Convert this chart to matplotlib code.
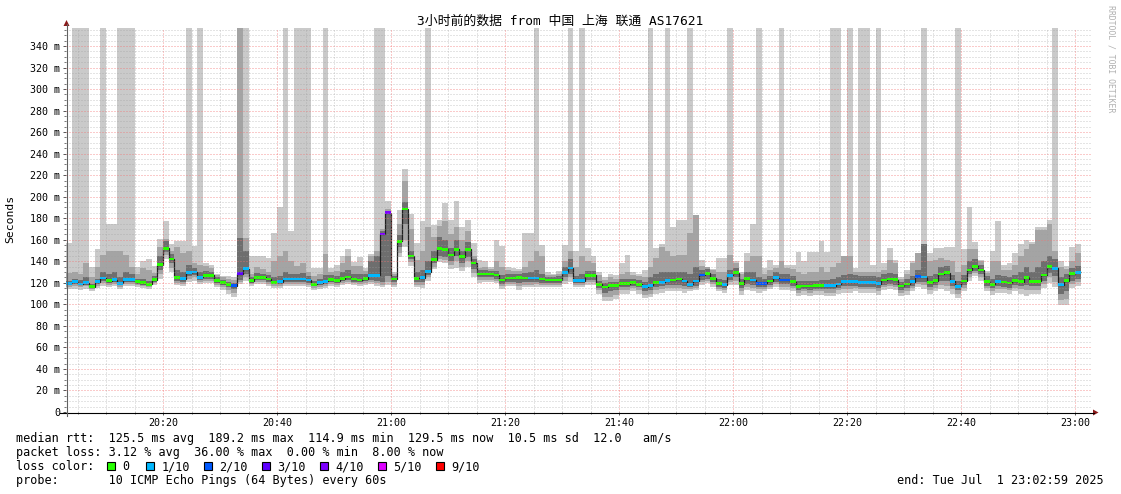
import numpy as np
import matplotlib
matplotlib.use("Agg")
import matplotlib.pyplot as plt
from matplotlib.patches import Rectangle, Polygon

# ---------------- data (one value per minute, starting 20:03) ----------------
med = [
    119.5, 121, 119, 120, 116.5, 121, 124.5, 122, 123, 119.5,
    123, 123, 121, 120, 118.5, 123, 137, 152, 142, 125,
    124, 129.5, 130, 125, 127, 127, 122, 120, 118.5, 117.5,
    128.5, 133, 122, 125, 125, 123.5, 120.5, 121, 123.5, 123.5,
    123.5, 123.5, 122.5, 118.5, 120, 121.5, 123, 122, 124, 125.5,
    123.5, 122.6, 124, 127, 127, 165.4, 185, 123.5, 158.5, 188.6,
    145, 124.3, 124.7, 130.3, 141.5, 152, 151, 145.8, 151, 144.4,
    151, 138.4, 128.2, 128.2, 128.2, 127.3, 122.6, 124.5, 124.5, 124.8,
    124.6, 124.6, 124.6, 123.5, 122.5, 122.5, 122.5, 129.8, 133.8, 122.1,
    122.1, 127, 127, 118.5, 116, 117.6, 117.6, 119.2, 119.2, 120,
    118.5, 116.5, 117.7, 120, 120.3, 122.3, 122.5, 123.5, 121.8, 118.7,
    121.8, 127.2, 128.8, 124.2, 119.1, 118.4, 126.8, 129.4, 119.1, 123.8,
    122.5, 119.4, 119.4, 121.7, 124.8, 122.6, 122.6, 121, 116.8, 117,
    116.9, 117.3, 117.3, 117.3, 117.5, 118.9, 121, 121.2, 121.2, 120.5,
    120.5, 120.5, 119.3, 122.5, 123.6, 122.9, 117, 118.8, 121.2, 125.6,
    125.3, 120, 122, 128.2, 129.4, 121.4, 116.7, 121.7, 132, 135.4,
    132, 121.2, 118.6, 121, 120.8, 119.7, 121.9, 121.2, 125.2, 121.3,
    121.3, 127.2, 135, 133.6, 118.2, 122.1, 128.5, 129.7,
]
loss = [
    1, 1, 1, 1, 0, 1, 1, 0, 1, 1,
    1, 1, 0, 0, 0, 0, 0, 0, 0, 0,
    1, 1, 1, 1, 0, 0, 0, 0, 0, 2,
    3, 1, 0, 0, 0, 0, 0, 1, 1, 1,
    1, 1, 1, 0, 1, 1, 0, 0, 0, 0,
    0, 0, 0, 1, 1, 4, 4, 0, 0, 0,
    0, 0, 1, 1, 0, 0, 0, 0, 0, 0,
    0, 0, 0, 0, 0, 0, 0, 0, 0, 0,
    0, 1, 1, 0, 0, 0, 0, 1, 1, 1,
    1, 0, 0, 0, 0, 0, 0, 0, 0, 0,
    0, 1, 1, 0, 1, 1, 0, 0, 1, 1,
    1, 2, 0, 0, 0, 1, 1, 0, 0, 0,
    1, 2, 2, 0, 1, 2, 2, 0, 0, 0,
    0, 0, 0, 1, 1, 1, 1, 1, 1, 1,
    1, 1, 1, 0, 0, 0, 0, 0, 1, 2,
    1, 0, 0, 0, 0, 1, 1, 0, 0, 0,
    0, 0, 0, 1, 0, 0, 0, 0, 0, 0,
    0, 0, 0, 1, 1, 0, 0, 1,
]
# smoke band edges (ms); 999 = beyond the top of the graph
lo1 = [
    114, 114, 113, 114, 112, 115, 117, 116, 117, 114,
    117, 117, 116, 115, 114, 118, 124, 142, 130, 118,
    117, 121, 122, 119, 120, 120, 116, 113, 110, 107,
    119, 122, 117, 119, 119, 117, 115, 115, 117, 117,
    117, 117, 116, 113, 114, 115, 117, 116, 118, 119,
    118, 117, 118, 119, 117, 116, 118, 116, 144, 153,
    136, 116, 115, 122, 133, 139, 138, 133, 134, 131,
    135, 125, 120, 121, 121, 120, 114, 117, 117, 113,
    116, 116, 116, 116, 116, 116, 116, 119, 121, 116,
    116, 118, 118, 110, 103, 103, 105, 110, 110, 112,
    110, 106, 107, 110, 111, 112, 112, 112, 111, 112,
    113, 118, 120, 116, 112, 111, 118, 118, 109, 113,
    112, 111, 112, 114, 116, 113, 113, 112, 108, 109,
    108, 109, 109, 108, 108, 110, 111, 111, 112, 111,
    111, 111, 109, 113, 114, 113, 108, 109, 112, 116,
    114, 110, 112, 114, 112, 110, 106, 112, 122, 126,
    122, 112, 109, 111, 111, 110, 112, 110, 108, 110,
    110, 115, 120, 116, 99, 99, 115, 117,
]
lo2 = [
    116, 117, 116, 117, 114, 117, 120, 118, 119, 116,
    119, 119, 118, 117, 116, 120, 128, 146, 134, 120,
    119, 124, 125, 121, 122, 122, 118, 116, 113, 111,
    121, 125, 119, 121, 121, 119, 117, 117, 119, 119,
    119, 119, 118, 115, 116, 117, 119, 118, 120, 121,
    120, 119, 120, 121, 120, 118, 121, 118, 148, 160,
    139, 118, 118, 125, 135, 142, 141, 137, 140, 135,
    140, 129, 123, 123, 123, 122, 117, 119, 119, 117,
    118, 118, 119, 118, 118, 118, 118, 122, 125, 118,
    118, 121, 121, 113, 107, 107, 109, 113, 113, 115,
    113, 109, 110, 113, 114, 115, 115, 115, 114, 114,
    115, 121, 122, 119, 114, 113, 121, 122, 112, 116,
    115, 114, 114, 116, 119, 116, 116, 115, 111, 112,
    111, 112, 112, 111, 111, 113, 114, 114, 115, 114,
    114, 114, 112, 116, 117, 116, 111, 112, 115, 119,
    118, 113, 115, 118, 117, 114, 110, 115, 125, 129,
    125, 115, 112, 114, 114, 113, 115, 114, 113, 113,
    113, 119, 125, 121, 104, 105, 119, 121,
]
lo3 = [
    118, 119, 118, 118, 115, 119, 122, 120, 121, 118,
    121, 121, 119, 118, 117, 121, 132, 149, 138, 122,
    121, 126, 127, 123, 124, 124, 120, 118, 116, 114,
    123, 128, 120, 123, 123, 121, 119, 119, 121, 121,
    121, 121, 120, 117, 118, 119, 121, 120, 122, 123,
    121, 121, 122, 123, 122, 121, 126, 121, 153, 175,
    142, 121, 121, 127, 138, 145, 144, 140, 145, 138,
    144, 133, 125, 125, 125, 124, 119, 121, 121, 120,
    121, 121, 121, 120, 120, 120, 120, 125, 128, 120,
    120, 123, 123, 115, 111, 112, 113, 116, 116, 117,
    116, 112, 113, 116, 117, 118, 118, 118, 117, 116,
    117, 123, 124, 121, 116, 115, 123, 125, 115, 119,
    118, 116, 116, 118, 121, 119, 119, 117, 113, 114,
    113, 114, 114, 114, 114, 115, 117, 117, 117, 116,
    116, 116, 115, 118, 119, 118, 113, 115, 117, 121,
    121, 116, 118, 122, 122, 117, 113, 118, 128, 131,
    128, 117, 115, 117, 116, 115, 118, 117, 118, 117,
    117, 122, 129, 126, 110, 112, 122, 124,
]
hi3 = [
    122, 124, 123, 125, 119, 124, 130, 128, 130, 125,
    130, 128, 124, 124, 122, 126, 145, 159, 147, 132,
    130, 137, 134, 130, 131, 130, 125, 123, 121, 120,
    162, 150, 125, 129, 128, 127, 125, 126, 130, 128,
    128, 129, 126, 122, 124, 127, 127, 126, 130, 132,
    128, 128, 128, 140, 145, 168, 187, 126, 164, 195,
    150, 130, 132, 140, 150, 163, 160, 152, 160, 150,
    158, 142, 132, 132, 131, 131, 127, 128, 128, 128,
    129, 130, 132, 128, 125, 125, 126, 135, 142, 126,
    128, 131, 131, 122, 120, 121, 121, 124, 124, 124,
    123, 121, 125, 128, 130, 130, 130, 130, 130, 128,
    135, 132, 133, 128, 124, 123, 132, 134, 124, 130,
    130, 125, 124, 126, 130, 128, 128, 126, 122, 122,
    122, 122, 123, 123, 124, 125, 127, 128, 127, 126,
    126, 126, 125, 128, 129, 128, 121, 124, 126, 132,
    156, 126, 128, 135, 136, 127, 122, 127, 140, 142,
    137, 126, 124, 127, 126, 125, 127, 130, 135, 130,
    135, 140, 145, 142, 125, 128, 134, 136,
]
hi2 = [
    129, 130, 128, 138, 125, 135, 146, 150, 150, 150,
    146, 135, 128, 134, 132, 129, 153, 161, 150, 153,
    148, 150, 138, 137, 136, 134, 127, 125, 124, 123,
    999, 162, 128, 135, 133, 130, 140, 145, 150, 140,
    136, 138, 130, 126, 128, 147, 130, 131, 138, 145,
    136, 136, 131, 145, 150, 170, 189, 128, 175, 215,
    170, 141, 150, 172, 163, 173, 177, 165, 172, 160,
    168, 145, 134, 135, 133, 140, 135, 132, 131, 131,
    135, 140, 150, 145, 127, 127, 128, 140, 150, 135,
    145, 140, 138, 127, 123, 125, 124, 128, 130, 127,
    126, 125, 135, 143, 153, 150, 145, 146, 146, 166,
    183, 136, 135, 132, 130, 130, 146, 138, 128, 140,
    145, 145, 128, 132, 134, 140, 134, 133, 130, 128,
    130, 130, 135, 130, 135, 138, 145, 145, 130, 130,
    130, 130, 130, 132, 141, 138, 124, 128, 138, 148,
    156, 140, 141, 143, 141, 140, 130, 137, 151, 151,
    140, 129, 140, 140, 132, 132, 137, 145, 151, 156,
    169, 169, 175, 150, 135, 133, 140, 148,
]
hi1 = [
    157, 999, 999, 999, 135, 151, 999, 175, 175, 999,
    999, 999, 135, 140, 142, 136, 161, 177, 156, 159,
    159, 999, 154, 999, 138, 137, 128, 126, 126, 125,
    999, 999, 145, 145, 145, 143, 166, 190, 999, 168,
    999, 999, 999, 134, 134, 999, 134, 137, 145, 151,
    139, 144, 134, 147, 999, 999, 196, 130, 188, 226,
    184, 157, 177, 999, 174, 178, 194, 178, 196, 172,
    178, 157, 141, 140, 135, 160, 154, 135, 134, 133,
    166, 166, 999, 155, 130, 128, 131, 155, 999, 150,
    999, 152, 145, 130, 125, 128, 127, 138, 146, 130,
    128, 132, 999, 152, 156, 999, 172, 178, 178, 999,
    183, 141, 135, 133, 143, 143, 999, 140, 130, 148,
    175, 999, 134, 141, 137, 999, 137, 137, 149, 140,
    149, 149, 159, 149, 999, 999, 145, 999, 134, 999,
    999, 137, 999, 138, 152, 141, 125, 132, 140, 148,
    999, 148, 152, 152, 153, 153, 999, 151, 190, 158,
    141, 131, 150, 177, 137, 138, 148, 156, 160, 158,
    172, 172, 178, 999, 140, 136, 153, 156,
]

time_labels = ["20:20", "20:40", "21:00", "21:20", "21:40",
               "22:00", "22:20", "22:40", "23:00"]
time_pos = [17, 37, 57, 77, 97, 117, 137, 157, 177]   # minutes after 20:03
y_ticks = list(range(0, 341, 20))
y_labels = ["0"] + [f"{v} m" for v in y_ticks[1:]]

loss_levels = [0, 1, 2, 3, 4, 5, 9]
loss_names = ["0", "1/10", "2/10", "3/10", "4/10", "5/10", "9/10"]
loss_colors = ["#26ff00", "#00b8ff", "#0059ff", "#5e00ff", "#7e00ff", "#dd00ff", "#ff0000"]

legend_rtt = "median rtt:  125.5 ms avg  189.2 ms max  114.9 ms min  129.5 ms now  10.5 ms sd  12.0   am/s"
legend_loss = "packet loss: 3.12 % avg  36.00 % max  0.00 % min  8.00 % now"
legend_probe = "probe:       10 ICMP Echo Pings (64 Bytes) every 60s"
legend_end = "end: Tue Jul  1 23:02:59 2025"
title = "3小时前的数据 from 中国 上海 联通 AS17621"

# ---------------- figure ----------------
W, H = 1121, 494
fig = plt.figure(figsize=(W / 100, H / 100), dpi=100)
fig.patch.set_facecolor("white")
MONO = "DejaVu Sans Mono"

ax = fig.add_axes([66.1 / W, 1 - 412 / H, 1026 / W, 384 / H])
ax.set_facecolor("white")
ax.set_xlim(0, 180)
ax.set_ylim(0, 356.7)
for s in ax.spines.values():
    s.set_visible(False)

N = len(med)
edges = np.arange(N + 1)

# smoke
ax.stairs(hi1, edges, baseline=lo1, fill=True, color="#cacaca", lw=0, zorder=1)
ax.stairs(hi2, edges, baseline=lo2, fill=True, color="#a4a4a4", lw=0, zorder=1.1)
ax.stairs(hi3, edges, baseline=lo3, fill=True, color="#6e6e6e", lw=0, zorder=1.2)

# median line + loss coloured bars
ax.stairs(med, edges, baseline=None, color="#202020", lw=0.9, zorder=1.8)


def lcolor(l):
    c = loss_colors[0]
    for lev, col in zip(loss_levels, loss_colors):
        if l >= lev:
            c = col
    return c


ax.bar(edges[:-1], 2.5, bottom=np.array(med) - 1.25, width=1, align="edge",
       color=[lcolor(l) for l in loss], lw=0, zorder=2)

# grid (drawn over the data, as rrdtool does)
MAJ = (0.95, 0.45, 0.45, 0.75)
MIN = (0.62, 0.62, 0.62, 0.55)
for v in np.arange(5, 357, 5):
    ax.axhline(v, color=MAJ if v % 20 == 0 else MIN, lw=0.72, ls=(0, (1, 2)), zorder=2.5)
for m in np.arange(2, 180, 5):
    ax.axvline(m, color=MAJ if m in time_pos else MIN, lw=0.72, ls=(0, (1, 2)), zorder=2.5)

# ticks
ax.set_yticks(y_ticks)
ax.set_yticklabels(y_labels, fontfamily=MONO, fontsize=7.2)
ax.set_yticks(np.arange(0, 357, 5), minor=True)
ax.set_xticks(time_pos)
ax.set_xticklabels(time_labels, fontfamily=MONO, fontsize=7.2)
ax.set_xticks(np.arange(2, 180, 5), minor=True)
ax.tick_params(axis="y", which="major", length=2.5, width=0.7, color="#555555", pad=1.8)
ax.tick_params(axis="y", which="minor", length=1.3, width=0.7, color="#777777")
ax.tick_params(axis="x", which="major", length=2.5, width=0.7, color="#555555", pad=1.6)
ax.tick_params(axis="x", which="minor", length=1.5, width=0.7, color="#777777")

# ---------------- overlay in pixel coordinates ----------------
ov = fig.add_axes([0, 0, 1, 1], zorder=5)
ov.set_xlim(0, W)
ov.set_ylim(H, 0)
ov.axis("off")
ov.patch.set_alpha(0)

# axes lines and arrows
ov.plot([60, 1094], [412.5, 412.5], color="#000000", lw=0.8)
ov.plot([66.5, 66.5], [416, 24], color="#606060", lw=0.8)
ov.add_patch(Polygon([[1093, 409.5], [1098.5, 412.5], [1093, 415.5]], closed=True,
                     color="#8b1a1a", lw=0))
ov.add_patch(Polygon([[63.5, 26], [66.5, 20], [69.5, 26]], closed=True,
                     color="#8b1a1a", lw=0))

# title
ov.text(560, 21, title, ha="center", va="center",
        fontsize=9.3, family=[MONO, "Noto Sans CJK SC"], color="#000000")
# y label
ov.text(10.5, 219, "Seconds", rotation=90, ha="center", va="center",
        fontsize=8.2, family=MONO, color="#000000")
# watermark
ov.text(1110.5, 59, "RRDTOOL / TOBI OETIKER", rotation=270, ha="center", va="center",
        fontsize=5.9, family=MONO, color="#b0b0b0")

# legend block
FS = 8.5
rows_y = [438, 452.5, 466.5, 480.5]
ov.text(16, rows_y[0], legend_rtt, ha="left", va="center", fontsize=FS, family=MONO)
ov.text(16, rows_y[1], legend_loss, ha="left", va="center", fontsize=FS, family=MONO)
ov.text(16, rows_y[2], "loss color:", ha="left", va="center", fontsize=FS, family=MONO)
box_x = [107, 145.7, 203.6, 261.8, 319.6, 377.5, 435.7]
for bx, name, col in zip(box_x, loss_names, loss_colors):
    ov.add_patch(Rectangle((bx, rows_y[2] - 4.5), 8, 8, facecolor=col,
                           edgecolor="#000000", lw=0.8))
    ov.text(bx + 15.5, rows_y[2], name, ha="left", va="center", fontsize=FS, family=MONO)
ov.text(16, rows_y[3], legend_probe, ha="left", va="center", fontsize=FS, family=MONO)
ov.text(1104, rows_y[3], legend_end, ha="right", va="center", fontsize=FS, family=MONO)

fig.savefig("out.png", dpi=100, facecolor="white")
